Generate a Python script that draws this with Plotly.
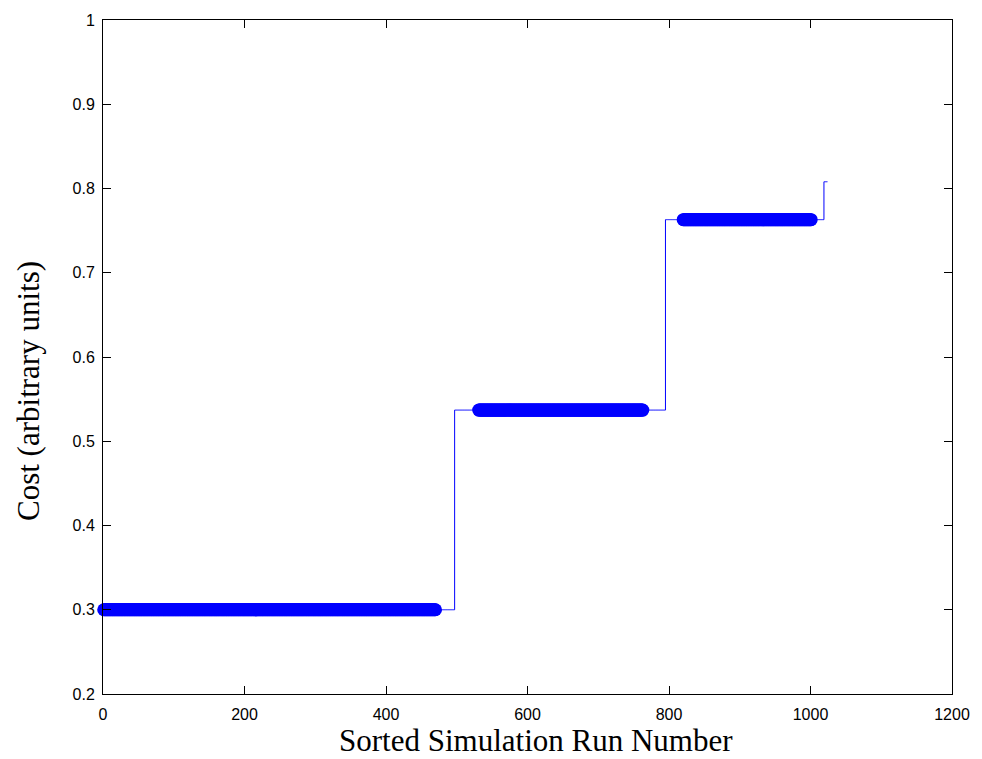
import numpy as np
import plotly.graph_objects as go

# Sorted cost per simulation run: each cost level and how many runs sit on it
cost_levels = [0.300, 0.537, 0.763, 0.808]
runs_per_level = [496, 298, 224, 6]

# Run-number ranges drawn with heavy markers (inclusive)
marked_start = [1, 531, 820]
marked_end = [470, 763, 1001]

x_ticks = [0, 200, 400, 600, 800, 1000, 1200]
y_ticks = [0.2, 0.3, 0.4, 0.5, 0.6, 0.7, 0.8, 0.9, 1.0]
y_tick_text = ["0.2", "0.3", "0.4", "0.5", "0.6", "0.7", "0.8", "0.9", "1"]

runs = np.arange(1, sum(runs_per_level) + 1)
cost = np.repeat(cost_levels, runs_per_level)

fig = go.Figure()

fig.add_trace(go.Scatter(
    x=runs, y=cost, mode="lines", line_shape="hv",
    line=dict(color="#0000ff", width=1),
    showlegend=False, hoverinfo="skip",
))

for a, b in zip(marked_start, marked_end):
    sel = (runs >= a) & (runs <= b)
    fig.add_trace(go.Scatter(
        x=runs[sel], y=cost[sel], mode="markers",
        marker=dict(color="#0000ff", size=13, line=dict(width=0)),
        cliponaxis=False, showlegend=False,
    ))

axis_common = dict(
    showgrid=False, zeroline=False, showline=True, linecolor="black",
    linewidth=1, mirror="ticks", ticks="inside", ticklen=8,
    tickcolor="black", tickwidth=1,
    tickfont=dict(family="Liberation Sans, Arial, sans-serif", size=16, color="black"),
)

title_font = dict(family="Liberation Serif, Times New Roman, serif", size=31, color="black")

fig.update_layout(
    width=982, height=759,
    margin=dict(l=103, r=27, t=17, b=65),
    paper_bgcolor="white", plot_bgcolor="white",
    xaxis=dict(range=[0, 1200], tickvals=x_ticks, ticklabelstandoff=6, **axis_common),
    yaxis=dict(range=[0.2, 1.0], tickvals=y_ticks, ticktext=y_tick_text,
               ticklabelstandoff=4, **axis_common),
    annotations=[
        dict(text="Sorted Simulation Run Number", xref="paper", yref="paper",
             x=0.51, y=-0.069, xanchor="center", yanchor="middle",
             showarrow=False, font=title_font),
        dict(text="Cost (arbitrary units)", xref="paper", yref="paper",
             x=-0.088, y=0.45, xanchor="center", yanchor="middle",
             textangle=-90, showarrow=False, font=title_font),
    ],
)

fig.write_html("out.html")
